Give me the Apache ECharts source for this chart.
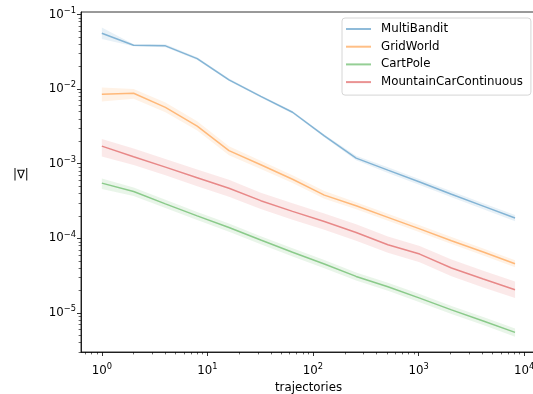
<!DOCTYPE html>
<html>
<head>
<meta charset="utf-8">
<script src="https://cdn.jsdelivr.net/npm/echarts@6/dist/echarts.min.js"></script>
<style>
html, body { margin: 0; padding: 0; background: #fff; }
#main { width: 533px; height: 394px; }
</style>
</head>
<body>
<div id="main"></div>
<script>
// x: number of trajectories
var trajectories = [1, 2, 4, 8, 16, 32, 64, 128, 256, 512, 1024, 2048, 4096, 8192];

// mean |grad| and band (low / high)
var multiBandit     = [0.056, 0.0387, 0.038, 0.0256, 0.0133, 0.0080, 0.0049, 0.00236, 0.00119, 0.00082, 0.00057, 0.00039, 0.00027, 0.000187];
var multiBanditLow  = [0.047, 0.0375, 0.0365, 0.0245, 0.0128, 0.0077, 0.0047, 0.00226, 0.00111, 0.00075, 0.00052, 0.000355, 0.000246, 0.00017];
var multiBanditHigh = [0.067, 0.0400, 0.0398, 0.0268, 0.0139, 0.0083, 0.0051, 0.00247, 0.00128, 0.00090, 0.00062, 0.000428, 0.000296, 0.000205];

var gridWorld     = [0.00855, 0.0088, 0.0057, 0.0032, 0.0015, 0.00097, 0.00062, 0.00038, 0.000273, 0.000191, 0.000134, 0.000093, 0.0000655, 0.0000457];
var gridWorldLow  = [0.0068, 0.0074, 0.0049, 0.00278, 0.0013, 0.00085, 0.00055, 0.00034, 0.000245, 0.000172, 0.000121, 0.000084, 0.000059, 0.000041];
var gridWorldHigh = [0.0105, 0.0100, 0.0066, 0.0037, 0.00172, 0.0011, 0.0007, 0.00043, 0.000305, 0.000213, 0.00015, 0.000104, 0.000073, 0.000051];

var cartPole     = [0.00055, 0.000425, 0.00029, 0.0002, 0.00014, 0.000095, 0.000065, 0.0000453, 0.0000309, 0.0000225, 0.0000158, 0.000011, 0.0000078, 0.0000055];
var cartPoleLow  = [0.000457, 0.00037, 0.000255, 0.000176, 0.000123, 0.0000835, 0.0000572, 0.0000399, 0.0000272, 0.0000198, 0.0000139, 0.0000097, 0.0000069, 0.0000048];
var cartPoleHigh = [0.000634, 0.00048, 0.000328, 0.000226, 0.000158, 0.000107, 0.0000735, 0.0000512, 0.0000349, 0.0000254, 0.0000179, 0.0000124, 0.0000088, 0.0000062];

var mountainCar     = [0.00172, 0.00124, 0.0009, 0.00065, 0.00047, 0.00032, 0.00023, 0.000168, 0.00012, 0.000082, 0.0000616, 0.00004, 0.0000285, 0.0000205];
var mountainCarLow  = [0.00125, 0.00096, 0.0007, 0.0005, 0.00036, 0.000248, 0.000178, 0.00013, 0.000093, 0.000064, 0.000048, 0.000031, 0.000022, 0.0000159];
var mountainCarHigh = [0.00215, 0.0016, 0.00116, 0.00084, 0.00061, 0.00041, 0.000295, 0.000215, 0.000155, 0.000106, 0.000079, 0.000052, 0.0000368, 0.0000265];

var seriesNames = ['MultiBandit', 'GridWorld', 'CartPole', 'MountainCarContinuous'];

// tick values
var xMajor = [1, 10, 100, 1000, 10000];
var yMajor = [1e-5, 1e-4, 1e-3, 1e-2, 1e-1];
var xMinor = [];
var yMinor = [];
[0.1, 1, 10, 100, 1000].forEach(function (d) {
    for (var k = 2; k < 10; k++) xMinor.push(k * d);
});
[1e-6, 1e-5, 1e-4, 1e-3, 1e-2].forEach(function (d) {
    for (var k = 2; k < 10; k++) yMinor.push(k * d);
});

var lineColors = ['rgba(31,119,180,0.5)', 'rgba(255,127,14,0.5)', 'rgba(44,160,44,0.5)', 'rgba(214,39,40,0.5)'];
var bandColors = ['rgba(31,119,180,0.1)', 'rgba(255,127,14,0.1)', 'rgba(44,160,44,0.1)', 'rgba(214,39,40,0.1)'];

var FONT = 'DejaVu Sans';
var FS = 11.8;

function pairs(ys) {
    return trajectories.map(function (x, i) { return [x, ys[i]]; });
}

function sup(v) {
    var e = Math.round(Math.log10(v));
    return '{b|10}{s|' + (e < 0 ? '\u2212' + (-e) : e) + '}';
}

var labelRich = {
    b: { fontFamily: FONT, fontSize: FS, color: '#000' },
    s: { fontFamily: FONT, fontSize: 8.3, color: '#000', padding: [0, 0, 8, 0] }
};

var XMIN = 0.635, XMAX = 12940, YMIN = 3.0e-6, YMAX = 0.108;

var means = [multiBandit, gridWorld, cartPole, mountainCar];
var lows = [multiBanditLow, gridWorldLow, cartPoleLow, mountainCarLow];
var highs = [multiBanditHigh, gridWorldHigh, cartPoleHigh, mountainCarHigh];

// band polygon: upper edge left->right, lower edge right->left
function bandRenderer(k) {
    return function (params, api) {
        var pts = [];
        for (var j = 0; j < trajectories.length; j++) pts.push(api.coord([trajectories[j], highs[k][j]]));
        for (var j = trajectories.length - 1; j >= 0; j--) pts.push(api.coord([trajectories[j], lows[k][j]]));
        return {
            type: 'polygon',
            shape: { points: pts },
            style: { fill: bandColors[k] },
            silent: true
        };
    };
}

var series = [];
for (var i = 0; i < 4; i++) {
    series.push({
        name: seriesNames[i] + ' band', type: 'custom',
        data: [[trajectories[0], lows[i][0]]],
        renderItem: bandRenderer(i), clip: true, silent: true, z: 1
    });
    series.push({
        name: seriesNames[i], type: 'line', data: pairs(means[i]),
        symbol: 'none', z: 2 + i,
        itemStyle: { color: lineColors[i] },
        lineStyle: { color: lineColors[i], width: 1.5 }
    });
}

var myChart = echarts.init(document.getElementById('main'));
option = {
    animation: false,
    grid: {
        left: 81, top: 12, width: 455, height: 340,
        show: true, borderColor: '#000', borderWidth: 0.8,
        containLabel: false, outerBoundsMode: 'none'
    },
    legend: {
        data: seriesNames,
        orient: 'vertical',
        left: 342, top: 18,
        padding: [4, 8, 6, 4],
        itemGap: 3.7,
        itemWidth: 25, itemHeight: 2,
        icon: 'rect',
        backgroundColor: '#fff',
        borderColor: '#cccccc', borderWidth: 0.8, borderRadius: 3,
        textStyle: { fontFamily: FONT, fontSize: FS, color: '#000', lineHeight: 14, padding: [0, 0, 0, 5] }
    },
    xAxis: [{
        type: 'log', min: XMIN, max: XMAX,
        position: 'bottom',
        name: 'trajectories', nameLocation: 'middle', nameGap: 23,
        nameTextStyle: { fontFamily: FONT, fontSize: FS, color: '#000' },
        axisLine: { lineStyle: { color: '#000', width: 0.8 } },
        axisTick: { customValues: xMajor, length: 4, lineStyle: { color: '#000', width: 0.8 } },
        axisLabel: { customValues: xMajor, formatter: sup, rich: labelRich, margin: 11 },
        splitLine: { show: false }
    }, {
        type: 'log', min: XMIN, max: XMAX,
        position: 'bottom',
        axisLine: { show: false },
        axisTick: { customValues: xMinor, length: 2.4, lineStyle: { color: '#000', width: 0.6 } },
        axisLabel: { show: false },
        splitLine: { show: false }
    }],
    yAxis: [{
        type: 'log', min: YMIN, max: YMAX,
        position: 'left',
        axisLine: { lineStyle: { color: '#000', width: 0.8 } },
        axisTick: { customValues: yMajor, length: 4, lineStyle: { color: '#000', width: 0.8 } },
        axisLabel: { customValues: yMajor, formatter: sup, rich: labelRich, margin: 5 },
        splitLine: { show: false }
    }, {
        type: 'log', min: YMIN, max: YMAX,
        position: 'left',
        axisLine: { show: false },
        axisTick: { customValues: yMinor, length: 2.4, lineStyle: { color: '#000', width: 0.6 } },
        axisLabel: { show: false },
        splitLine: { show: false }
    }],
    graphic: [{
        type: 'text', left: 13, top: 169,
        style: { text: '|\u2207|', fontFamily: FONT, fontSize: FS, fill: '#000' }
    }],
    series: series
};
myChart.setOption(option);
</script>
</body>
</html>
